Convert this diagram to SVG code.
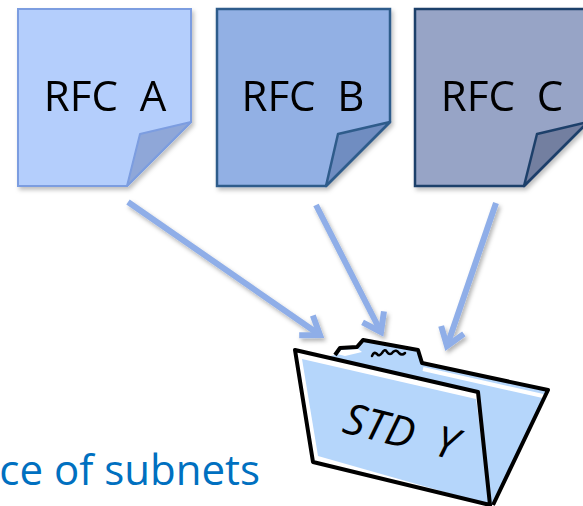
<svg xmlns="http://www.w3.org/2000/svg" width="583" height="506" viewBox="0 0 583 506">
  <defs>
    <filter id="sh" x="-20%" y="-20%" width="140%" height="140%">
      <feDropShadow dx="2" dy="3" stdDeviation="2" flood-color="#000" flood-opacity="0.25"/>
    </filter>
    <filter id="ash" x="-20%" y="-20%" width="140%" height="140%">
      <feDropShadow dx="2" dy="3" stdDeviation="2" flood-color="#000" flood-opacity="0.3"/>
    </filter>
    <marker id="head" markerUnits="userSpaceOnUse" markerWidth="40" markerHeight="40" refX="0" refY="0" viewBox="-20 -20 40 40" orient="auto" overflow="visible">
      <path d="M-17,-12 L0,0 L-17,12" fill="none" stroke="#8FAEE8" stroke-width="6" stroke-linejoin="miter"/>
    </marker>
    <style>
      .lbl { font-family: "Open Sans", "Liberation Sans", sans-serif; font-size: 42px; fill: #000; text-anchor: middle; }
      .arrow { stroke: #8FAEE8; stroke-width: 6; fill: none; marker-end: url(#head); }
      .fold { fill: none; stroke: #000; stroke-width: 4; stroke-linejoin: round; }
    </style>
  </defs>

  <g id="rfcA" filter="url(#sh)">
    <path d="M18,9 H191 V122 L127,186 H18 Z" fill="#B4CEFC" stroke="#7C9DE0" stroke-width="2"/>
    <path d="M191,122 L140,134 L127,186 Z" fill="#8FA7D8" stroke="#7C9DE0" stroke-width="2" stroke-linejoin="round"/>
    <text class="lbl" x="105" y="111" xml:space="preserve">RFC  A</text>
  </g>

  <g id="rfcB" filter="url(#sh)">
    <path d="M217,9 H390 V122 L326,186 H217 Z" fill="#92B0E4" stroke="#2F5B8B" stroke-width="2.5"/>
    <path d="M390,122 L338,134 L326,186 Z" fill="#6F8DC1" stroke="#2F5B8B" stroke-width="2.5" stroke-linejoin="round"/>
    <text class="lbl" x="303" y="111" xml:space="preserve">RFC  B</text>
  </g>

  <g id="rfcC" filter="url(#sh)">
    <path d="M415,9 H588 V122 L524,186 H415 Z" fill="#97A4C6" stroke="#1F3F6A" stroke-width="2.5"/>
    <path d="M588,122 L537,134 L524,186 Z" fill="#737FA0" stroke="#1F3F6A" stroke-width="2.5" stroke-linejoin="round"/>
    <text class="lbl" x="502" y="111" xml:space="preserve">RFC  C</text>
  </g>

  <g id="connectors" filter="url(#ash)">
    <line class="arrow" x1="128" y1="202" x2="320" y2="335"/>
    <line class="arrow" x1="316" y1="205" x2="381" y2="332"/>
    <line class="arrow" x1="496" y1="203" x2="447" y2="346"/>
  </g>

  <g id="stdY">
    <!-- back panel -->
    <path d="M335,355 L340,348 L357,347 L363,340 L418,350 L422,363 L548,390 L493,505 L400,470 L330,356 Z" fill="#B5D6FB"/>
    <path d="M337,354 L341,350 L358,349 L362,352 L345,356 Z" fill="#fff"/>
    <line x1="423" y1="369" x2="543" y2="396" stroke="#fff" stroke-width="4"/>
    <path class="fold" d="M335,355 L340,348 L357,347 L363,340 L418,350 L422,363 L548,390 L493,505"/>
    <path d="M372,356 q2,-5 5,-2 q2,3 5,-1 q3,-5 5,-1 q3,4 6,0 q3,-3 6,1 q3,3 6,0" fill="none" stroke="#000" stroke-width="2.5" stroke-linecap="round" stroke-linejoin="round"/>
    <!-- front panel -->
    <path d="M295,350 L478,392 L490,505 L313,462 Z" fill="#fff"/>
    <path d="M302,359 L476,399 L490,505 L318,456 Z" fill="#B5D6FB"/>
    <path class="fold" d="M295,350 L478,392 L490,505 L313,462 Z"/>
    <text x="341" y="432" transform="rotate(14 341 432)" font-family="'Open Sans', 'Liberation Sans', sans-serif" font-size="43" font-style="italic" fill="#000" xml:space="preserve">STD  Y</text>
  </g>

  <text id="caption" x="260" y="485" font-family="'Open Sans', 'Liberation Sans', sans-serif" font-size="42" fill="#0070C0" text-anchor="end">ce of subnets</text>
</svg>
